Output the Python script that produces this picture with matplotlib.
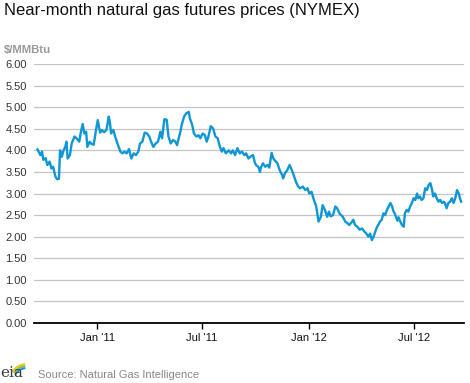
import numpy as np
import pandas as pd
import matplotlib
matplotlib.use('Agg')
import matplotlib.pyplot as plt
from matplotlib.patches import Arc

# trading days, counted from 1 Jan 2011, and near-month price ($/MMBtu)
day = [-103, -98, -95, -93, -89, -86, -82, -79, -76, -72, -69, -66, -64, -61, -58, -55,
       -53, -51, -47, -44, -39, -35, -31, -28, -25, -22, -19, -17, -13, -10, -6, -2,
       1, 5, 8, 12, 16, 20, 22, 24, 28, 31, 35, 40, 44, 47, 51, 55, 59, 63, 67, 71,
       74, 78, 82, 86, 90, 93, 97, 101, 105, 109, 112, 116, 120, 123, 127, 131, 135,
       138, 142, 143, 146, 150, 154, 158, 160, 164, 167, 171, 175, 178, 182, 186, 189,
       192, 196, 200, 204, 208, 211, 215, 218, 222, 227, 231, 234, 238, 242, 246, 250,
       254, 257, 261, 264, 269, 272, 274, 278, 281, 282, 286, 290, 294, 297, 301, 304,
       307, 311, 315, 319, 321, 324, 328, 332, 336, 339, 343, 347, 350, 355, 359, 363,
       366, 370, 374, 378, 382, 386, 389, 393, 397, 400, 403, 407, 411, 414, 418, 421,
       424, 428, 432, 435, 440, 442, 445, 449, 453, 457, 461, 464, 468, 471, 474, 477,
       480, 483, 485, 488, 491, 494, 497, 500, 503, 506, 509, 511, 514, 518, 520, 523,
       526, 529, 531, 534, 537, 540, 543, 546, 549, 552, 554, 557, 560, 563, 566, 569,
       572, 575, 578, 580, 583, 586, 589, 592, 595, 598, 600, 603, 606, 609, 612, 615,
       618, 621, 624, 626, 628]
price = [4.02, 3.89, 3.97, 3.78, 3.82, 3.66, 3.74, 3.58, 3.62, 3.39, 3.33, 3.34, 4.00, 3.85,
         4.00, 4.08, 4.20, 3.81, 3.89, 4.16, 4.32, 4.27, 4.20, 4.43, 4.61, 4.39, 4.43, 4.08,
         4.20, 4.15, 4.13, 4.47, 4.70, 4.41, 4.47, 4.42, 4.47, 4.78, 4.64, 4.39, 4.47, 4.32,
         4.16, 3.97, 3.93, 3.97, 3.93, 4.03, 3.81, 3.93, 3.89, 3.97, 4.16, 4.20, 4.41, 4.39,
         4.32, 4.20, 4.08, 4.16, 4.20, 4.43, 4.28, 4.72, 4.71, 4.32, 4.16, 4.24, 4.20, 4.12,
         4.35, 4.39, 4.60, 4.78, 4.86, 4.89, 4.74, 4.59, 4.39, 4.32, 4.35, 4.28, 4.39, 4.35,
         4.20, 4.32, 4.56, 4.51, 4.32, 4.28, 4.12, 3.97, 4.05, 3.93, 4.00, 3.93, 4.00, 3.89,
         4.05, 3.93, 3.97, 3.89, 3.93, 3.81, 3.85, 3.89, 3.72, 3.66, 3.62, 3.50, 3.58, 3.70,
         3.62, 3.66, 3.60, 3.94, 3.81, 3.76, 3.70, 3.54, 3.43, 3.35, 3.47, 3.54, 3.66, 3.54,
         3.43, 3.27, 3.16, 3.12, 3.16, 3.08, 3.12, 3.00, 3.04, 2.85, 2.70, 2.35, 2.46, 2.73,
         2.62, 2.46, 2.58, 2.47, 2.50, 2.70, 2.66, 2.54, 2.50, 2.46, 2.35, 2.31, 2.27, 2.35,
         2.39, 2.27, 2.23, 2.16, 2.19, 2.12, 2.08, 2.00, 2.07, 1.92, 2.00, 2.12, 2.23, 2.27,
         2.35, 2.39, 2.54, 2.50, 2.62, 2.70, 2.78, 2.70, 2.60, 2.52, 2.37, 2.45, 2.35, 2.27,
         2.23, 2.54, 2.62, 2.58, 2.70, 2.78, 2.89, 2.85, 3.00, 2.89, 2.93, 2.85, 2.89, 3.12,
         3.08, 3.20, 3.24, 3.08, 2.93, 3.00, 2.89, 2.81, 2.85, 2.78, 2.81, 2.78, 2.66, 2.78,
         2.81, 2.89, 2.78, 2.89, 3.08, 3.00, 2.89, 2.81]
xticks = ['2011-01-01', '2011-07-01', '2012-01-01', '2012-07-01']
xticklabels = ["Jan '11", "Jul '11", "Jan '12", "Jul '12"]
yticks = np.arange(0, 6.01, 0.5)

plt.rcParams['font.family'] = ['Liberation Sans', 'DejaVu Sans']

start = pd.Timestamp('2011-01-01')
dates = start + pd.to_timedelta(day, unit='D')

fig = plt.figure(figsize=(4.70, 3.83), dpi=100)
ax = fig.add_axes([34 / 470, 1 - 323 / 383, 430 / 470, 259 / 383])

ax.plot(dates, price, color='#0f96d4', lw=1.7, solid_joinstyle='round')

ax.set_ylim(0, 6)
ax.set_xlim(start + pd.Timedelta(days=-109), start + pd.Timedelta(days=633))
ax.set_yticks(yticks)
ax.set_yticklabels(['%.2f' % v for v in yticks])
ax.set_xticks(pd.to_datetime(xticks))
ax.set_xticklabels(xticklabels)

ax.grid(axis='y', color='#c4c4c4', lw=0.9)
ax.set_axisbelow(True)
for s in ['top', 'right', 'left']:
    ax.spines[s].set_visible(False)
ax.spines['bottom'].set_color('#000000')
ax.spines['bottom'].set_linewidth(1.3)
ax.tick_params(axis='y', length=0, pad=5, labelsize=8, labelcolor='#333333')
ax.tick_params(axis='x', length=4, width=1, color='#000000', pad=3,
               labelsize=8, labelcolor='#111111')

fig.text(4 / 470, 1 - 11 / 383, 'Near-month natural gas futures prices (NYMEX)',
         fontsize=12, color='#111111', va='center', ha='left')
fig.text(4 / 470, 1 - 50 / 383, '$/MMBtu', fontsize=8.2, color='#999999',
         fontweight='bold', va='center', ha='left')
fig.text(38 / 470, 1 - 375 / 383, 'Source: Natural Gas Intelligence',
         fontsize=8, color='#888888', va='center', ha='left')

# eia logo
fig.text(0 / 470, 1 - 373 / 383, 'eia', family='DejaVu Serif', fontsize=11,
         color='#3a3a3a', va='center', ha='left')
for r, c in [(18, '#f2c318'), (16, '#7cc242'), (14, '#1b8fd2')]:
    fig.add_artist(Arc((27 / 470, 1 - 382 / 383), 2 * r / 470, 2 * r / 383,
                       theta1=95, theta2=140, color=c, lw=1.4,
                       transform=fig.transFigure))

fig.savefig('out.png', dpi=100)
